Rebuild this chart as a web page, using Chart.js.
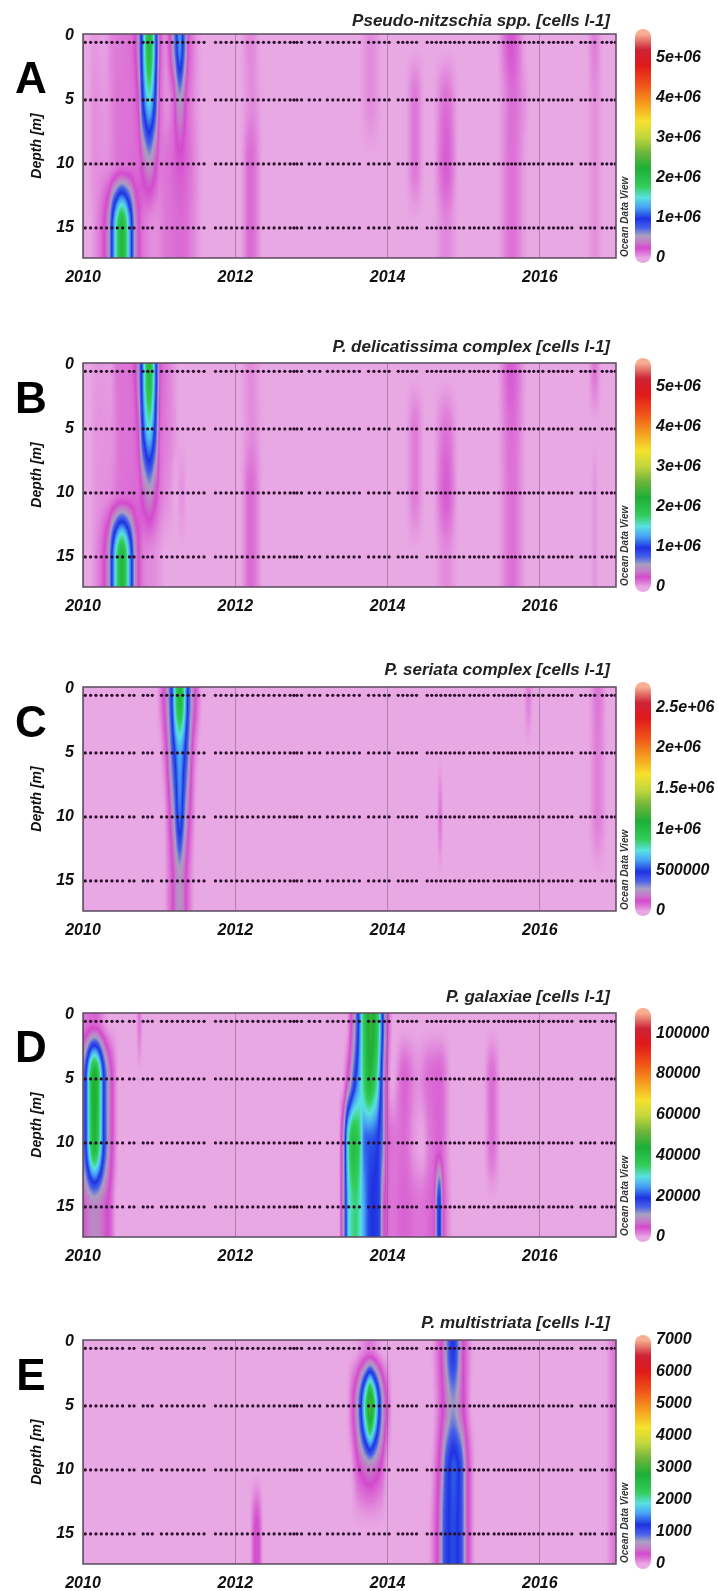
<!DOCTYPE html>
<html>
<head>
<meta charset="utf-8">
<script src="https://cdn.jsdelivr.net/npm/chart.js@4.4.1/dist/chart.umd.min.js"></script>
<style>
  html, body { margin: 0; padding: 0; background: #fff; overflow: hidden; }
  #wrap { position: relative; width: 718px; height: 1591px; }
  canvas { position: absolute; left: 0; }
</style>
</head>
<body>
<div id="wrap">
  <canvas id="cA" width="718" height="290" style="top:0px"></canvas>
  <canvas id="cB" width="718" height="290" style="top:329px"></canvas>
  <canvas id="cC" width="718" height="290" style="top:653px"></canvas>
  <canvas id="cD" width="718" height="290" style="top:979px"></canvas>
  <canvas id="cE" width="718" height="290" style="top:1306px"></canvas>
</div>
<script>
// axes
const yearTicks = [2010, 2012, 2014, 2016];
const depthTicks = [0, 5, 10, 15];
const sampleDepths = [0.5, 5, 10, 15];

// sampling dates (decimal year), same for every panel
const sampleDates = [
  2010.03, 2010.1, 2010.17, 2010.24, 2010.31, 2010.38, 2010.45, 2010.52, 2010.61, 2010.67,
  2010.79, 2010.85, 2010.91,
  2011.03, 2011.1, 2011.17, 2011.24, 2011.31, 2011.38, 2011.45, 2011.52, 2011.59,
  2011.74, 2011.81, 2011.88, 2011.95, 2012.02, 2012.09, 2012.16, 2012.23, 2012.3, 2012.37,
  2012.44, 2012.51, 2012.58, 2012.65, 2012.72, 2012.77, 2012.81, 2012.87,
  2012.97, 2013.04, 2013.11,
  2013.21, 2013.28, 2013.35, 2013.42, 2013.49, 2013.56, 2013.63,
  2013.75, 2013.82, 2013.89, 2013.96, 2014.02,
  2014.14, 2014.2, 2014.26, 2014.32, 2014.38,
  2014.52, 2014.58, 2014.64, 2014.7, 2014.76, 2014.82, 2014.88, 2014.94, 2015.0,
  2015.08, 2015.14, 2015.2, 2015.26, 2015.32,
  2015.4, 2015.46, 2015.52, 2015.58, 2015.63, 2015.68, 2015.74, 2015.8, 2015.86, 2015.92, 2015.98, 2016.04,
  2016.12, 2016.18, 2016.24, 2016.3, 2016.36, 2016.42,
  2016.54, 2016.6, 2016.66, 2016.72,
  2016.82, 2016.88, 2016.94, 2016.99
];

// A: Pseudo-nitzschia spp. — [year, cells l-1] along each sampled depth
const sppTitle = 'Pseudo-nitzschia spp. [cells l-1]';
const sppMax = 5.6e6;
const sppTicks = [0, 1e6, 2e6, 3e6, 4e6, 5e6];
const sppLabels = ['0', '1e+06', '2e+06', '3e+06', '4e+06', '5e+06'];
const spp0 = [[2010.05,0],[2010.15,0.04e6],[2010.27,0.02e6],[2010.4,0.1e6],[2010.62,0.14e6],[2010.7,0.3e6],[2010.77,1.0e6],[2010.87,2.1e6],[2010.96,1.0e6],[2011.02,0.2e6],[2011.08,0.08e6],
  [2011.14,0.25e6],[2011.21,0.75e6],[2011.27,1.25e6],[2011.33,0.75e6],[2011.4,0.18e6],[2011.6,0],
  [2012.05,0],[2012.2,0.08e6],[2012.35,0],[2013.6,0],[2013.78,0.07e6],[2013.95,0],
  [2015.42,0],[2015.62,0.22e6],[2015.84,0],[2016.6,0],[2016.72,0.1e6],[2016.84,0]];
const spp5 = [[2010.05,0],[2010.15,0.06e6],[2010.28,0.04e6],[2010.45,0.12e6],[2010.65,0.14e6],[2010.72,0.25e6],[2010.78,0.9e6],[2010.87,1.5e6],[2010.95,0.9e6],[2011.02,0.15e6],[2011.1,0.06e6],
  [2011.18,0.15e6],[2011.27,0.55e6],[2011.38,0.15e6],[2011.6,0],
  [2012.05,0],[2012.22,0.07e6],[2012.38,0],[2013.6,0],[2013.78,0.07e6],[2013.95,0],
  [2014.22,0],[2014.36,0.12e6],[2014.5,0],[2014.58,0],[2014.77,0.14e6],[2014.95,0],
  [2015.42,0],[2015.55,0.08e6],[2015.63,0.15e6],[2015.8,0.05e6],[2015.88,0],[2016.6,0],[2016.72,0.06e6],[2016.85,0]];
const spp10 = [[2010.05,0],[2010.15,0.06e6],[2010.3,0.06e6],[2010.5,0.14e6],[2010.72,0.16e6],[2010.8,0.35e6],[2010.87,0.5e6],[2010.95,0.3e6],[2011.02,0.12e6],
  [2011.15,0.15e6],[2011.27,0.22e6],[2011.42,0.12e6],[2011.6,0],
  [2012.05,0],[2012.2,0.16e6],[2012.38,0],[2014.22,0],[2014.36,0.12e6],[2014.5,0],
  [2014.58,0],[2014.77,0.2e6],[2014.95,0],[2015.42,0],[2015.63,0.14e6],[2015.86,0],[2016.6,0],[2016.72,0.06e6],[2016.85,0]];
const spp15 = [[2010.05,0],[2010.2,0.1e6],[2010.33,0.45e6],[2010.4,1.2e6],[2010.51,2.1e6],[2010.62,1.2e6],[2010.69,0.45e6],[2010.8,0.12e6],[2010.95,0.06e6],
  [2011.1,0.12e6],[2011.3,0.16e6],[2011.45,0.08e6],[2011.6,0],
  [2012.05,0],[2012.2,0.16e6],[2012.38,0],[2014.58,0],[2014.77,0.08e6],[2014.95,0],
  [2015.42,0],[2015.63,0.14e6],[2015.86,0],[2016.6,0],[2016.72,0.06e6],[2016.85,0]];

// B: P. delicatissima complex
const delTitle = 'P. delicatissima complex [cells l-1]';
const delMax = 5.6e6;
const delTicks = [0, 1e6, 2e6, 3e6, 4e6, 5e6];
const delLabels = ['0', '1e+06', '2e+06', '3e+06', '4e+06', '5e+06'];
const del0 = [[2010.05,0],[2010.2,0.04e6],[2010.35,0.03e6],[2010.45,0.12e6],[2010.62,0.14e6],[2010.7,0.3e6],[2010.77,1.0e6],[2010.87,2.1e6],[2010.96,1.0e6],[2011.02,0.2e6],[2011.15,0.08e6],[2011.3,0],
  [2012.05,0],[2012.2,0.07e6],[2012.38,0],[2015.42,0],[2015.62,0.2e6],[2015.85,0],[2016.62,0],[2016.72,0.12e6],[2016.82,0]];
const del5 = [[2010.05,0],[2010.2,0.05e6],[2010.35,0.05e6],[2010.5,0.13e6],[2010.65,0.14e6],[2010.72,0.25e6],[2010.78,0.9e6],[2010.87,1.5e6],[2010.95,0.9e6],[2011.02,0.15e6],[2011.15,0.08e6],[2011.3,0],
  [2012.05,0],[2012.22,0.07e6],[2012.38,0],[2014.22,0],[2014.36,0.11e6],[2014.5,0],
  [2014.58,0],[2014.77,0.13e6],[2014.95,0],[2015.42,0],[2015.63,0.15e6],[2015.85,0]];
const del10 = [[2010.05,0],[2010.2,0.05e6],[2010.35,0.07e6],[2010.5,0.14e6],[2010.72,0.16e6],[2010.8,0.35e6],[2010.87,0.5e6],[2010.95,0.3e6],[2011.02,0.12e6],[2011.15,0.04e6],[2011.22,0],[2011.3,0.05e6],[2011.38,0],
  [2012.05,0],[2012.2,0.16e6],[2012.38,0],[2014.22,0],[2014.36,0.11e6],[2014.5,0],
  [2014.58,0],[2014.77,0.2e6],[2014.95,0],[2015.42,0],[2015.63,0.14e6],[2015.85,0],[2016.66,0],[2016.72,0.05e6],[2016.78,0]];
const del15 = [[2010.05,0],[2010.2,0.1e6],[2010.33,0.45e6],[2010.4,1.2e6],[2010.51,2.1e6],[2010.62,1.2e6],[2010.69,0.45e6],[2010.8,0.1e6],[2010.95,0.06e6],[2011.1,0],
  [2012.05,0],[2012.2,0.16e6],[2012.38,0],[2014.58,0],[2014.77,0.07e6],[2014.95,0],
  [2015.42,0],[2015.63,0.14e6],[2015.85,0],[2016.66,0],[2016.72,0.05e6],[2016.78,0]];

// C: P. seriata complex
const serTitle = 'P. seriata complex [cells l-1]';
const serMax = 2.75e6;
const serTicks = [0, 5e5, 1e6, 1.5e6, 2e6, 2.5e6];
const serLabels = ['0', '500000', '1e+06', '1.5e+06', '2e+06', '2.5e+06'];
const ser0 = [[2010.95,0],[2011.05,0.1e6],[2011.15,0.4e6],[2011.27,1.05e6],[2011.39,0.4e6],[2011.5,0.08e6],[2011.58,0],
  [2015.78,0],[2015.85,0.05e6],[2015.92,0],[2016.62,0],[2016.76,0.06e6],[2016.9,0]];
const ser5 = [[2011.0,0],[2011.08,0.08e6],[2011.18,0.4e6],[2011.27,0.65e6],[2011.36,0.4e6],[2011.46,0.06e6],[2011.54,0],
  [2016.62,0],[2016.76,0.05e6],[2016.9,0]];
const ser10 = [[2011.05,0],[2011.12,0.08e6],[2011.2,0.3e6],[2011.27,0.55e6],[2011.34,0.3e6],[2011.42,0.08e6],[2011.5,0],
  [2014.64,0],[2014.69,0.06e6],[2014.74,0],[2016.62,0],[2016.76,0.05e6],[2016.9,0]];
const ser15 = [[2011.05,0],[2011.15,0.08e6],[2011.27,0.25e6],[2011.38,0.08e6],[2011.48,0]];

// D: P. galaxiae
const galTitle = 'P. galaxiae [cells l-1]';
const galMax = 110000;
const galTicks = [0, 20000, 40000, 60000, 80000, 100000];
const galLabels = ['0', '20000', '40000', '60000', '80000', '100000'];
const gal0 = [[2009.95,2000],[2010.15,3500],[2010.35,0],[2010.69,0],[2010.74,2500],[2010.79,0],
  [2013.45,0],[2013.55,8000],[2013.62,20000],[2013.7,38000],[2013.78,46000],[2013.86,38000],[2013.93,20000],[2013.99,6000],[2014.08,0]];
const gal5 = [[2009.95,8000],[2010.02,16000],[2010.15,45000],[2010.29,16000],[2010.38,5000],[2010.48,0],
  [2013.4,0],[2013.5,8000],[2013.57,18000],[2013.66,30000],[2013.76,42000],[2013.85,34000],[2013.92,18000],[2013.98,5000],[2014.06,0],
  [2014.22,3500],[2014.4,1200],[2014.55,3000],[2014.68,3500],[2014.85,0],[2015.25,0],[2015.37,3000],[2015.5,0]];
const gal10 = [[2009.95,8000],[2010.02,16000],[2010.15,42000],[2010.29,16000],[2010.38,5000],[2010.48,0],
  [2013.35,0],[2013.42,10000],[2013.48,30000],[2013.55,40000],[2013.62,36000],[2013.7,22000],[2013.85,20000],[2013.93,14000],[2013.99,4000],
  [2014.1,2500],[2014.22,3000],[2014.35,800],[2014.45,0],[2014.55,2200],[2014.68,3500],[2014.85,0],[2015.25,0],[2015.37,2800],[2015.5,0]];
const gal15 = [[2009.95,5000],[2010.15,9000],[2010.35,4000],[2010.45,0],
  [2013.35,0],[2013.42,10000],[2013.5,30000],[2013.58,34000],[2013.66,28000],[2013.76,20000],[2013.88,18000],[2013.95,6000],
  [2014.05,2500],[2014.22,3500],[2014.4,2500],[2014.6,4000],[2014.68,19000],[2014.74,4000],[2014.88,0]];

// E: P. multistriata
const mulTitle = 'P. multistriata [cells l-1]';
const mulMax = 7000;
const mulTicks = [0, 1000, 2000, 3000, 4000, 5000, 6000, 7000];
const mulLabels = ['0', '1000', '2000', '3000', '4000', '5000', '6000', '7000'];
const mul0 = [[2013.55,0],[2013.76,150],[2013.95,0],
  [2014.55,0],[2014.7,300],[2014.86,1200],[2015.0,300],[2015.15,0],[2016.85,0],[2016.98,150],[2017.1,150]];
const mul5 = [[2013.45,0],[2013.58,500],[2013.65,1200],[2013.72,2300],[2013.77,3100],[2013.83,2200],[2013.9,1100],[2013.97,400],[2014.08,0],
  [2014.58,0],[2014.72,300],[2014.86,750],[2015.0,300],[2015.12,0],[2016.85,0],[2016.98,150],[2017.1,150]];
const mul10 = [[2013.5,0],[2013.63,300],[2013.77,500],[2013.9,300],[2014.02,0],
  [2014.55,0],[2014.68,350],[2014.78,1100],[2014.87,1350],[2014.96,1100],[2015.05,350],[2015.17,0],
  [2016.85,0],[2016.98,150],[2017.1,150]];
const mul15 = [[2012.18,0],[2012.28,350],[2012.38,0],
  [2014.52,0],[2014.66,350],[2014.76,1100],[2014.86,1300],[2014.96,1100],[2015.05,350],[2015.17,0],
  [2016.85,0],[2016.98,150],[2017.1,150]];

// ODV-like palette (fraction of colour bar range)
const odvStops = [
  [0.000, [232,168,228]], [0.020, [222,122,216]], [0.045, [212,74,206]], [0.070, [198,122,200]],
  [0.100, [168,160,192]], [0.135, [70,95,235]], [0.175, [30,50,225]], [0.225, [70,160,245]],
  [0.270, [90,225,225]], [0.320, [50,205,90]], [0.400, [30,175,55]], [0.470, [110,180,60]],
  [0.540, [195,215,60]], [0.610, [245,225,45]], [0.690, [245,155,30]], [0.770, [240,85,25]],
  [0.860, [225,25,25]], [0.930, [205,35,55]], [1.000, [248,175,145]]
];

const FONT = 'Liberation Sans, Arial, sans-serif';
Chart.defaults.font.family = FONT;
Chart.defaults.color = '#111';

const LUT_N = 1024;
const lut = new Uint8ClampedArray(LUT_N * 3);
for (let i = 0; i < LUT_N; i++) {
  const f = i / (LUT_N - 1);
  let k = 0;
  while (k < odvStops.length - 2 && f > odvStops[k + 1][0]) k++;
  const [f0, c0] = odvStops[k], [f1, c1] = odvStops[k + 1];
  const u = Math.min(1, Math.max(0, (f - f0) / (f1 - f0)));
  for (let c = 0; c < 3; c++) lut[i * 3 + c] = c0[c] + (c1[c] - c0[c]) * u;
}

// monotone cubic (pchip) slopes
function slopes(xs, ys) {
  const n = xs.length, m = new Array(n).fill(0);
  for (let k = 1; k < n - 1; k++) {
    const h0 = xs[k] - xs[k - 1], h1 = xs[k + 1] - xs[k];
    const d0 = (ys[k] - ys[k - 1]) / h0, d1 = (ys[k + 1] - ys[k]) / h1;
    if (d0 * d1 > 0) {
      const w1 = 2 * h1 + h0, w2 = h1 + 2 * h0;
      m[k] = (w1 + w2) / (w1 / d0 + w2 / d1);
    }
  }
  return m;
}
function hermite(x0, x1, y0, y1, m0, m1, x) {
  const h = x1 - x0, u = (x - x0) / h, u2 = u * u, u3 = u2 * u;
  return (2*u3 - 3*u2 + 1) * y0 + (u3 - 2*u2 + u) * h * m0 + (-2*u3 + 3*u2) * y1 + (u3 - u2) * h * m1;
}
function curve(knots) {
  const xs = knots.map(k => k[0]), ys = knots.map(k => k[1]), m = slopes(xs, ys);
  return t => {
    if (t < xs[0] || t > xs[xs.length - 1]) return 0;
    let k = 0;
    while (k < xs.length - 2 && t > xs[k + 1]) k++;
    return Math.max(0, hermite(xs[k], xs[k + 1], ys[k], ys[k + 1], m[k], m[k + 1], t));
  };
}

// drop the label overhang padding so every plot area sits at the same place
function fixPad(s) {
  s.paddingTop = 0; s.paddingBottom = 0; s.paddingLeft = 0; s.paddingRight = 0;
}

const odvPlugin = {
  id: 'odv',
  beforeDraw(chart, args, o) {
    const {ctx, chartArea: a, scales: {x, y}} = chart;
    const L = Math.round(a.left), T = Math.round(a.top);
    const W = Math.round(a.right) - L, H = Math.round(a.bottom) - T;
    const fns = o.rows.map(curve);
    const ts = [];
    for (let i = 0; i < W; i++) ts.push(x.getValueForPixel(L + i + 0.5));
    const prof = fns.map(f => ts.map(f));
    const colM = [];
    for (let i = 0; i < W; i++) colM.push(slopes(sampleDepths, prof.map(p => p[i])));
    const img = ctx.createImageData(W, H);
    const nL = sampleDepths.length;
    for (let j = 0; j < H; j++) {
      const d = y.getValueForPixel(T + j + 0.5);
      let k = 0;
      while (k < nL - 2 && d > sampleDepths[k + 1]) k++;
      const dc = Math.min(sampleDepths[nL - 1], Math.max(sampleDepths[0], d));
      for (let i = 0; i < W; i++) {
        const v = hermite(sampleDepths[k], sampleDepths[k + 1], prof[k][i], prof[k + 1][i], colM[i][k], colM[i][k + 1], dc);
        const f = Math.min(1, Math.max(0, v / o.max));
        const li = Math.round(f * (LUT_N - 1)) * 3, p = (j * W + i) * 4;
        img.data[p] = lut[li]; img.data[p + 1] = lut[li + 1]; img.data[p + 2] = lut[li + 2]; img.data[p + 3] = 255;
      }
    }
    ctx.putImageData(img, L, T);
  },
  afterDraw(chart, args, o) {
    const {ctx, chartArea: a, scales: {cbar}} = chart;
    ctx.save();
    // frame
    ctx.strokeStyle = '#5b4a5e';
    ctx.lineWidth = 1.5;
    ctx.strokeRect(a.left, a.top, a.right - a.left, a.bottom - a.top);
    // colour bar
    const yb = cbar.getPixelForValue(0), yt = cbar.getPixelForValue(o.max);
    const g = ctx.createLinearGradient(0, yb, 0, yt);
    odvStops.forEach(([f, c]) => g.addColorStop(f, `rgb(${c[0]},${c[1]},${c[2]})`));
    ctx.fillStyle = g;
    ctx.beginPath();
    ctx.roundRect(a.right + 19, yt - 5, 16, yb - yt + 10, 8);
    ctx.fill();
    // texts
    ctx.fillStyle = '#222';
    ctx.font = `italic bold 17px ${FONT}`;
    ctx.textAlign = 'right';
    ctx.textBaseline = 'middle';
    ctx.fillText(o.title, a.right - 6, a.top - o.titleDy);
    ctx.fillStyle = '#000';
    ctx.font = `bold 44px ${FONT}`;
    ctx.textAlign = 'center';
    ctx.fillText(o.letter, 31, a.top + o.letterDy);
    ctx.translate(a.right + 9, a.bottom - 1);
    ctx.rotate(-Math.PI / 2);
    ctx.fillStyle = '#333';
    ctx.font = `italic bold 10px ${FONT}`;
    ctx.textAlign = 'left';
    ctx.fillText('Ocean Data View', 0, 0);
    ctx.restore();
  }
};

const tickFont = {size: 16, weight: 'bold', style: 'italic'};

function makePanel(id, letter, letterDy, titleDy, title, rows, max, cbTicks, cbLabels) {
  const dots = [];
  sampleDates.forEach(t => sampleDepths.forEach(d => dots.push({x: t, y: d})));
  new Chart(document.getElementById(id), {
    type: 'scatter',
    data: {
      datasets: [{
        data: dots,
        pointRadius: 1.6,
        pointBackgroundColor: '#2a0f2a',
        pointBorderWidth: 0
      }]
    },
    plugins: [odvPlugin],
    options: {
      responsive: false,
      devicePixelRatio: 1,
      animation: false,
      events: [],
      layout: {padding: {top: 34, left: 0, right: 0, bottom: 0}},
      plugins: {
        legend: {display: false},
        tooltip: {enabled: false},
        odv: {letter, letterDy, titleDy, title, rows, max}
      },
      scales: {
        x: {
          type: 'linear', min: 2010, max: 2017,
          afterBuildTicks: s => { s.ticks = yearTicks.map(v => ({value: v})); },
          afterFit: s => { s.height = 32; fixPad(s); },
          ticks: {font: tickFont, padding: 10, callback: v => String(v), maxRotation: 0},
          grid: {color: 'rgba(120,100,130,0.55)', lineWidth: 1, drawTicks: false},
          border: {display: false}
        },
        y: {
          type: 'linear', reverse: true, min: -0.15, max: 17.35,
          afterBuildTicks: s => { s.ticks = depthTicks.map(v => ({value: v})); },
          afterFit: s => { s.width = 83; fixPad(s); },
          ticks: {font: tickFont, padding: 9, callback: v => String(v)},
          grid: {display: false, drawTicks: false},
          border: {display: false},
          title: {display: true, text: 'Depth [m]', font: {size: 14, weight: 'bold', style: 'italic'}, padding: {top: 29, bottom: 0}, color: '#111'}
        },
        cbar: {
          type: 'linear', position: 'right', min: 0, max,
          afterBuildTicks: s => { s.ticks = cbTicks.map(v => ({value: v})); },
          afterFit: s => { s.width = 102; fixPad(s); },
          ticks: {font: tickFont, padding: 40, callback: (v, i) => cbLabels[i]},
          grid: {display: false, drawTicks: false},
          border: {display: false}
        }
      }
    }
  });
}

makePanel('cA', 'A', 47, 13, sppTitle, [spp0, spp5, spp10, spp15], sppMax, sppTicks, sppLabels);
makePanel('cB', 'B', 38, 16, delTitle, [del0, del5, del10, del15], delMax, delTicks, delLabels);
makePanel('cC', 'C', 38, 17, serTitle, [ser0, ser5, ser10, ser15], serMax, serTicks, serLabels);
makePanel('cD', 'D', 37, 16, galTitle, [gal0, gal5, gal10, gal15], galMax, galTicks, galLabels);
makePanel('cE', 'E', 38, 17, mulTitle, [mul0, mul5, mul10, mul15], mulMax, mulTicks, mulLabels);
</script>
</body>
</html>
